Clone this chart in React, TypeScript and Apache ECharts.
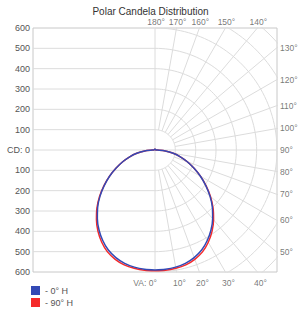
import React, { useEffect, useRef } from 'react';
import * as echarts from 'echarts';

// Vertical angles (degrees from nadir) at which candela values were read
const VA_DEG = [0, 5, 10, 15, 20, 25, 30, 35, 40, 45, 50, 55, 60, 65, 70, 75, 80, 85, 90,
  95, 100, 105, 110, 115, 120, 125, 130, 135, 140, 145, 150, 155, 160, 165, 170, 175, 180];
// Candela, 0° horizontal plane
const CD_0H = [590, 589, 585, 577, 563, 543, 514, 480, 441, 399, 353, 305, 258, 212, 169, 129, 91, 51, 12,
  4, 4, 4, 4, 4, 4, 4, 4, 4, 4, 4, 4, 4, 4, 4, 4, 4, 4];
// Candela, 90° horizontal plane
const CD_90H = [594, 594, 591, 585, 572, 553, 524, 489, 448, 404, 356, 307, 259, 212, 169, 129, 91, 51, 12,
  4, 4, 4, 4, 4, 4, 4, 4, 4, 4, 4, 4, 4, 4, 4, 4, 4, 4];

const SERIES_NAMES = ['0° H', '90° H'];
const SERIES_COLORS = ['#3349b5', '#f52a2a'];

// Candela scale ticks (signed: up is positive, down negative)
const CD_TICKS = [-600, -500, -400, -300, -200, -100, 0, 100, 200, 300, 400, 500, 600];
// Rings of the polar grid (candela)
const RING_RADII = [100, 200, 300, 400, 500, 600, 700, 800];
// Spokes of the polar grid (vertical angle)
const SPOKE_ANGLES = [0, 10, 20, 30, 40, 50, 60, 70, 80, 90, 100, 110, 120, 130, 140, 150, 160, 170, 180];
const SPOKE_LABELS = ['VA: 0°', '10°', '20°', '30°', '40°', '50°', '60°', '70°', '80°', '90°',
  '100°', '110°', '120°', '130°', '140°', '150°', '160°', '170°', '180°'];

const GRID_COLOR = '#dcdcdc';
const TEXT_COLOR = '#555';
const FONT = 'Liberation Sans';

const rad = (d: number) => (d * Math.PI) / 180;
const polarPt = (r: number, va: number): [number, number] => [r * Math.sin(rad(va)), -r * Math.cos(rad(va))];

function gridLine(data: any[]) {
  return {
    type: 'line', data, symbol: 'none', silent: true, clip: true, z: 1,
    lineStyle: { color: GRID_COLOR, width: 1 },
  };
}

export default function App() {
  const ref = useRef<HTMLDivElement>(null);
  useEffect(() => {
    if (!ref.current) return;
    const chart = echarts.init(ref.current, null, { renderer: 'svg' });
    const series: any[] = [];

    // horizontal lines on left half
    CD_TICKS.forEach((v) => {
      if (Math.abs(v) === 600) return;
      series.push(gridLine([[-600, v], [v === 0 ? 600 : 0, v]]));
    });
    // vertical centre line
    series.push(gridLine([[0, -600], [0, 600]]));
    // rings (right half)
    RING_RADII.forEach((r) => {
      const pts: [number, number][] = [];
      for (let a = 0; a <= 180; a += 2) pts.push(polarPt(r, a));
      series.push(gridLine(pts));
    });
    // spokes
    SPOKE_ANGLES.forEach((a) => {
      if (a === 0 || a === 180 || a === 90) return;
      series.push(gridLine([polarPt(RING_RADII[0], a), polarPt(900, a)]));
    });

    // spoke labels
    const labelData = SPOKE_ANGLES.map((a, i) => {
      let value: [number, number];
      let label: any;
      if (a < 45) {
        value = [600 * Math.tan(rad(a)), -600];
        label = { position: 'bottom', distance: 6, offset: a === 0 ? [-10, 0] : [3, 0] };
      } else if (a > 135) {
        value = [-600 * Math.tan(rad(a)), 600];
        label = { position: 'top', distance: 2, offset: [1, 0] };
      } else {
        value = [600, (-600 * Math.cos(rad(a))) / Math.sin(rad(a))];
        label = { position: 'right', distance: 3 };
      }
      return { value, label: { ...label, formatter: SPOKE_LABELS[i] } };
    });
    series.push({
      type: 'scatter', data: labelData, symbolSize: 0, clip: false, silent: true, z: 2,
      label: { show: true, fontSize: 8.5, color: TEXT_COLOR, fontFamily: FONT },
    });

    // candela curves (both halves mirrored)
    [CD_90H, CD_0H].forEach((vals, k) => {
      const idx = 1 - k;
      const pts: [number, number][] = [];
      VA_DEG.forEach((a, i) => pts.push(polarPt(vals[i], a)));
      for (let i = VA_DEG.length - 1; i >= 0; i--) {
        const p = polarPt(vals[i], VA_DEG[i]);
        pts.push([-p[0], p[1]]);
      }
      series.push({
        type: 'line', name: SERIES_NAMES[idx], data: pts, symbol: 'none', silent: true, z: 5 + k,
        smooth: 0.3,
        itemStyle: { color: SERIES_COLORS[idx] },
        lineStyle: { color: SERIES_COLORS[idx], width: 1.5 },
      });
    });

    chart.setOption({
      animation: false,
      title: {
        text: 'Polar Candela Distribution', left: 'center', top: 1,
        textStyle: { fontSize: 10, fontWeight: 'normal', color: '#333', fontFamily: FONT },
      },
      legend: {
        data: SERIES_NAMES, orient: 'vertical', left: 31, top: 286, itemGap: 3,
        itemWidth: 9, itemHeight: 9, icon: 'rect', padding: 0,
        formatter: (n: string) => '- ' + n,
        textStyle: { fontSize: 9, color: TEXT_COLOR, fontFamily: FONT },
      },
      grid: { left: 33, top: 28, width: 244, height: 244, show: true, borderColor: '#c8c8c8', borderWidth: 1 },
      xAxis: { type: 'value', min: -600, max: 600, show: false },
      yAxis: {
        type: 'value', min: -600, max: 600, interval: 100,
        axisLine: { show: false }, axisTick: { show: false }, splitLine: { show: false },
        axisLabel: {
          fontSize: 9, color: TEXT_COLOR, fontFamily: FONT, margin: 3,
          formatter: (v: number) => (v === 0 ? 'CD: 0' : String(Math.abs(v))),
        },
      },
      series,
    });
    return () => chart.dispose();
  }, []);
  return <div ref={ref} style={{ position: 'absolute', left: 0, top: 0, width: 301, height: 312 }} />;
}
